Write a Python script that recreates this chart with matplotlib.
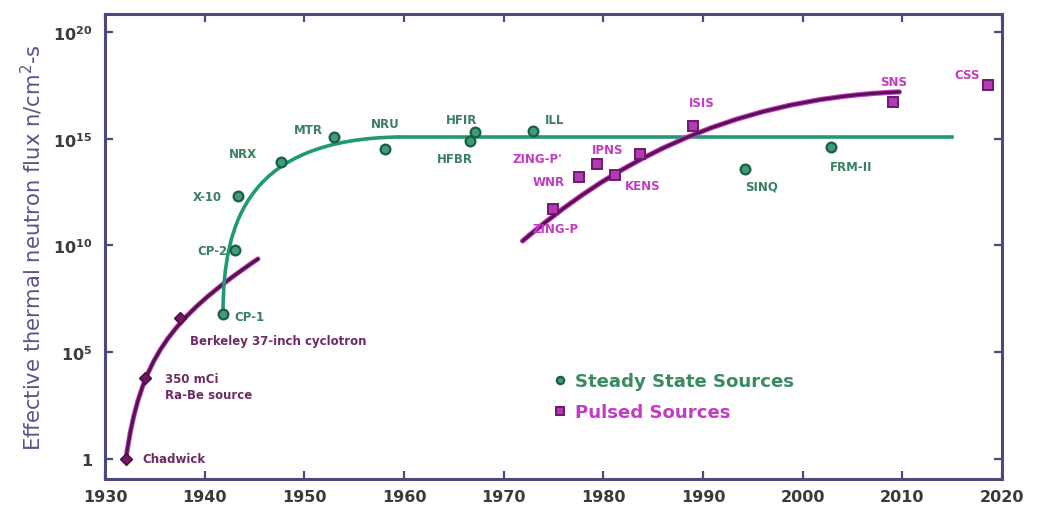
import numpy as np
import matplotlib
matplotlib.use("Agg")
import matplotlib.pyplot as plt
from matplotlib.path import Path
from matplotlib.patches import PathPatch

# ---------------- data ----------------
# early (purple) sources
early_names = ["Chadwick", "350 mCi\nRa-Be source", "Berkeley 37-inch cyclotron"]
early_years = [1932.1, 1934.0, 1937.5]
early_logflux = [0.0, 3.8, 6.6]

# steady state sources (green circles)
steady_names = ["CP-1", "CP-2", "X-10", "NRX", "MTR", "NRU", "HFIR", "HFBR", "ILL", "SINQ", "FRM-II"]
steady_years = [1941.8, 1943.0, 1943.3, 1947.7, 1953.0, 1958.1, 1967.1, 1966.6, 1972.9, 1994.2, 2002.8]
steady_logflux = [6.8, 9.8, 12.3, 13.9, 15.1, 14.5, 15.3, 14.9, 15.36, 13.6, 14.6]

# pulsed sources (magenta squares)
pulsed_names = ["ZING-P", "WNR", "ZING-P'", "KENS", "IPNS", "ISIS", "SNS", "CSS"]
pulsed_years = [1974.9, 1977.6, 1979.4, 1981.2, 1983.7, 1989.0, 2009.1, 2018.6]
pulsed_logflux = [11.7, 13.2, 13.8, 13.3, 14.3, 15.6, 16.7, 17.5]

# trend curves (cubic Bezier control points, then optional straight tail)
early_curve_x = [1932.1, 1933.5, 1936.5, 1945.35]
early_curve_logy = [0.0, 4.68, 6.56, 9.37]
steady_curve_x = [1941.84, 1941.84, 1944.54, 1959.59]
steady_curve_logy = [6.79, 11.24, 14.99, 15.08]
steady_tail_x = [1959.59, 2015.0]
steady_tail_logy = [15.08, 15.08]
pulsed_curve_x = [1971.9, 1980.15, 1991.7, 2009.7]
pulsed_curve_logy = [10.21, 13.49, 16.86, 17.19]

x_ticks = [1930, 1940, 1950, 1960, 1970, 1980, 1990, 2000, 2010, 2020]
y_tick_exps = [0, 5, 10, 15, 20]

# ---------------- style ----------------
GREEN_LINE = "#1f9a72"
GREEN_FACE = "#3f9d75"
GREEN_EDGE = "#1b5e44"
GREEN_TEXT = "#3a7f60"
MAG_FACE = "#b43ab4"
MAG_EDGE = "#6e1a6e"
MAG_TEXT = "#c23cc2"
PURPLE_LINE = "#5c0f55"
PURPLE_TEXT = "#6e2a66"
FRAME = "#4b4a7c"

fig = plt.figure(figsize=(10.38, 5.10), dpi=100)
ax = fig.add_axes([105/1038, 1-480/510, (1002-105)/1038, (480-15)/510])
ax.set_yscale("log")
ax.set_xlim(1930, 2020)
ax.set_ylim(10**-0.94, 10**20.84)


def bezier(xs, logys, color, lw):
    verts = list(zip(xs, [10.0**v for v in logys]))
    path = Path(verts, [Path.MOVETO, Path.CURVE4, Path.CURVE4, Path.CURVE4])
    ax.add_patch(PathPatch(path, facecolor="none", edgecolor=color, lw=lw, zorder=2,
                           capstyle="round"))


# curves
bezier(early_curve_x, early_curve_logy, "#b04aa8", 3.6)
bezier(early_curve_x, early_curve_logy, PURPLE_LINE, 2.2)
bezier(steady_curve_x, steady_curve_logy, GREEN_LINE, 2.6)
ax.plot(steady_tail_x, [10.0**v for v in steady_tail_logy], color=GREEN_LINE, lw=2.6, zorder=2)
bezier(pulsed_curve_x, pulsed_curve_logy, "#c040c0", 3.8)
bezier(pulsed_curve_x, pulsed_curve_logy, PURPLE_LINE, 2.2)

# markers
ax.plot(early_years, [10.0**v for v in early_logflux], "D", ms=6.5, color="#6a1a60",
        mec="#4a0a44", zorder=4)
hs = ax.plot(steady_years, [10.0**v for v in steady_logflux], "o", ms=7, mfc=GREEN_FACE,
             mec=GREEN_EDGE, mew=1.6, zorder=4, label="Steady State Sources")[0]
hp = ax.plot(pulsed_years, [10.0**v for v in pulsed_logflux], "s", ms=7, mfc=MAG_FACE,
             mec=MAG_EDGE, mew=1.4, zorder=4, label="Pulsed Sources")[0]

lab_kw = dict(fontsize=8.5, fontweight="bold", va="center")

# early labels
early_lab = [(1933.8, 0.0, "left"), (1936.0, 3.4, "left"), (1938.5, 5.53, "left")]
for name, (lx, ly, ha) in zip(early_names, early_lab):
    ax.text(lx, 10**ly, name, ha=ha, color=PURPLE_TEXT, linespacing=1.25, **lab_kw)

# steady labels
steady_lab = [(1943.0, 6.65, "left"), (1942.3, 9.75, "right"), (1941.7, 12.3, "right"),
              (1943.8, 14.3, "center"), (1950.4, 15.45, "center"), (1958.1, 15.7, "center"),
              (1965.8, 15.9, "center"), (1965.1, 14.05, "center"), (1974.1, 15.9, "left"),
              (1995.9, 12.8, "center"), (2002.7, 13.7, "left")]
for name, (lx, ly, ha) in zip(steady_names, steady_lab):
    ax.text(lx, 10**ly, name, ha=ha, color=GREEN_TEXT, **lab_kw)

# pulsed labels
pulsed_lab = [(1975.2, 10.8, "center"), (1976.1, 13.0, "right"), (1973.4, 14.05, "center"),
              (1983.9, 12.8, "center"), (1980.4, 14.5, "center"), (1989.9, 16.7, "center"),
              (2009.1, 17.7, "center"), (2016.5, 18.0, "center")]
for name, (lx, ly, ha) in zip(pulsed_names, pulsed_lab):
    ax.text(lx, 10**ly, name, ha=ha, color=MAG_TEXT, **lab_kw)

# legend
leg = ax.legend(handles=[hs, hp], loc="upper left", bbox_to_anchor=(536/1038, 1-357/510),
                bbox_transform=fig.transFigure, frameon=False, handlelength=0.8,
                handletextpad=0.45, labelspacing=0.7, markerscale=0.75,
                prop=dict(size=13.1, weight="bold"))
for t, c in zip(leg.get_texts(), ["#3a8a62", MAG_TEXT]):
    t.set_color(c)

# axes styling
ax.set_xticks(x_ticks)
ax.set_xticklabels([str(v) for v in x_ticks])
ax.set_yticks([10.0**e for e in y_tick_exps])
ax.set_yticklabels(["1" if e == 0 else r"$\mathbf{10^{%d}}$" % e for e in y_tick_exps])
ax.minorticks_off()
ax.tick_params(axis="both", which="major", direction="in", length=6, width=1.6,
               color=FRAME, top=True, right=True, labelsize=11.5, labelcolor="#3a3a3a")
for lbl in ax.get_xticklabels() + ax.get_yticklabels():
    lbl.set_fontweight("bold")
ax.tick_params(axis="x", pad=7)
ax.tick_params(axis="y", pad=9)
for s in ax.spines.values():
    s.set_color(FRAME)
    s.set_linewidth(2.2)
ax.set_ylabel("Effective thermal neutron flux n/cm$^{2}$-s", fontsize=15.2,
              color="#55558a", labelpad=6)

fig.savefig("out.png", dpi=100)
